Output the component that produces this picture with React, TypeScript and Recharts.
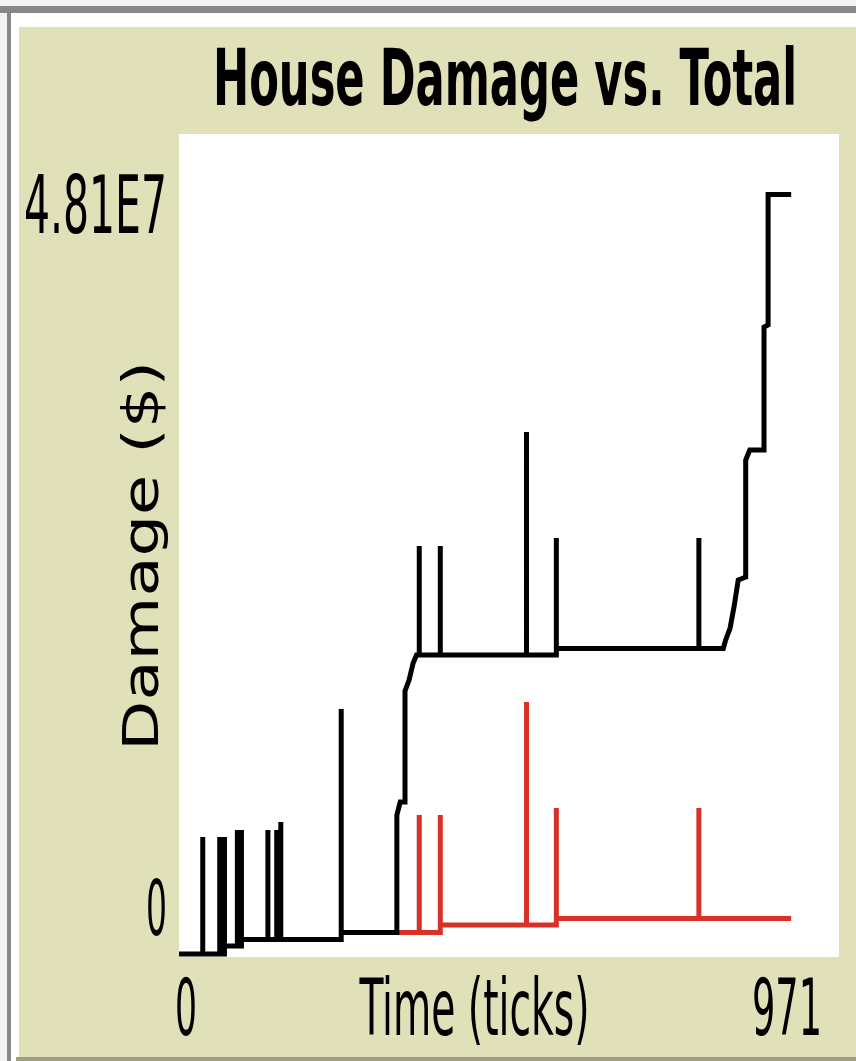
import React from "react";
import { LineChart, Line, XAxis, YAxis, Label } from "recharts";

const TITLE = "House Damage vs. Total";
const X_LABEL = "Time (ticks)";
const Y_LABEL = "Damage ($)";

const X_TICKS = [0, 971];
const Y_TICKS = [0, 48100000];
const Y_TICK_LABELS = ["0", "4.81E7"];

// total damage, ticks and $ millions (spikes are up-and-back on one tick)
const totalTicks = [
  0, 35, 35, 35, 60, 60, 60, 67, 67, 67, 86, 86, 86, 92, 92, 92,
  131, 131, 131, 144, 144, 144, 150, 150, 150, 239, 239, 239,
  321, 321, 326, 333, 333, 339, 345, 350, 354, 354, 354, 385, 385, 385,
  512, 512, 512, 556, 556, 556, 766, 766, 766,
  802, 805, 812, 818, 824, 835, 835, 841, 862, 862, 868, 868, 902,
];
const totalMillions = [
  0, 0, 6.86, 0, 0, 6.86, 0, 0, 6.86, 0.47, 0.47, 7.27, 0.47, 0.47, 7.27, 0.85,
  0.85, 7.27, 0.85, 0.85, 7.27, 0.85, 0.85, 7.74, 0.85, 0.85, 14.37, 1.26,
  1.26, 8.15, 8.92, 8.92, 15.43, 16.07, 17.07, 17.54, 17.54, 23.93, 17.54, 17.54, 23.93, 17.54,
  17.54, 30.62, 17.54, 17.54, 24.4, 17.92, 17.92, 24.4, 17.92,
  17.92, 18.36, 19.12, 20.41, 21.94, 22.11, 28.98, 29.56, 29.56, 36.78, 36.9, 44.55, 44.55,
];

// house damage: hidden under the total until tick 321, so only drawn from there
const houseTicks = [
  321, 354, 354, 354, 385, 385, 385, 512, 512, 512, 556, 556, 556, 766, 766, 766, 902,
];
const houseMillions = [
  1.26, 1.26, 8.15, 1.26, 1.26, 8.15, 1.7, 1.7, 14.78, 1.7, 1.7, 8.56, 2.08, 2.08, 8.56, 2.08, 2.08,
];

const toRows = (ticks: number[], vals: number[]) =>
  ticks.map((t, i) => ({ t, v: vals[i] * 1e6 }));

const totalData = toRows(totalTicks, totalMillions);
const houseData = toRows(houseTicks, houseMillions);

const FONT = "'Liberation Sans Narrow', 'DejaVu Sans Condensed', 'DejaVu Sans', sans-serif";
const KHAKI = "#e0e0b9";

// netlogo's pixel font is tall and narrow: small font, stretched upward
interface TallTextProps {
  x: number;
  y: number;
  width: number;
  cap: number;
  size: number;
  anchor?: "start" | "middle" | "end";
  bold?: boolean;
  children: React.ReactNode;
}

function TallText({ x, y, width, cap, size, anchor = "start", bold, children }: TallTextProps) {
  const sy = cap / (0.716 * size);
  return (
    <text
      transform={`translate(${x}, ${y}) scale(1, ${sy.toFixed(3)})`}
      textAnchor={anchor}
      fontFamily={FONT}
      fontWeight={bold ? "bold" : "normal"}
      fontSize={size}
      fill="#000"
      textLength={width}
      lengthAdjust="spacingAndGlyphs"
    >
      {children}
    </text>
  );
}

// eslint-disable-next-line @typescript-eslint/no-explicit-any
function YTick({ x, y, payload, index }: any) {
  const bottom = payload.value === 0;
  const text = Y_TICK_LABELS[index] ?? String(payload.value);
  return bottom ? (
    <TallText x={x} y={y - 19} width={21} cap={55} size={46} anchor="end">{text}</TallText>
  ) : (
    <TallText x={x} y={y + 99} width={143} cap={57} size={54} anchor="end">{text}</TallText>
  );
}

// eslint-disable-next-line @typescript-eslint/no-explicit-any
function XTick({ x, y, payload }: any) {
  const first = payload.value === 0;
  return first ? (
    <TallText x={x - 4} y={y + 81} width={22} cap={56} size={46}>{payload.value}</TallText>
  ) : (
    <TallText x={x - 16} y={y + 81} width={70} cap={56} size={50} anchor="end">{payload.value}</TallText>
  );
}

export default function App() {
  return (
    <div style={{ position: "relative", width: 856, height: 1061, background: "#f2f2f2", overflow: "hidden" }}>
      <style>{"body{margin:0}"}</style>
      <div style={{ position: "absolute", left: 0, top: 6, width: 856, height: 7, background: "#878787" }} />
      <div style={{ position: "absolute", left: 7, top: 6, width: 4, height: 1055, background: "#878787" }} />
      <div style={{ position: "absolute", left: 11, top: 13, width: 845, height: 1048, background: "#ffffff" }} />
      <div style={{ position: "absolute", left: 19, top: 27, width: 837, height: 1030, background: KHAKI }} />
      <div style={{ position: "absolute", left: 16, top: 1057, width: 840, height: 4, background: "#a0a080" }} />
      <div style={{ position: "absolute", left: 179, top: 134, width: 660, height: 823, background: "#ffffff" }} />

      <svg width={856} height={1061} style={{ position: "absolute", left: 0, top: 0, pointerEvents: "none" }}>
        <TallText x={213} y={105} width={584} cap={56} size={50} bold>
          {TITLE}
        </TallText>
      </svg>

      <div style={{ position: "absolute", left: 0, top: 0 }}>
        <LineChart width={856} height={1061} margin={{ top: 134, right: 18, bottom: 47, left: 119 }}>
          <XAxis
            type="number"
            dataKey="t"
            domain={[0, 971]}
            ticks={X_TICKS}
            interval={0}
            height={60}
            axisLine={false}
            tickLine={false}
            tickSize={0}
            tickMargin={0}
            tick={<XTick />}
          >
            <Label
              // eslint-disable-next-line @typescript-eslint/no-explicit-any
              content={(p: any) => (
                <TallText
                  x={p.viewBox.x + p.viewBox.width / 2 - 34}
                  y={p.viewBox.y + 81}
                  width={230}
                  cap={56}
                  size={52}
                  anchor="middle"
                >
                  {X_LABEL}
                </TallText>
              )}
            />
          </XAxis>
          <YAxis
            type="number"
            domain={[0, 48100000]}
            ticks={Y_TICKS}
            interval={0}
            width={60}
            axisLine={false}
            tickLine={false}
            tickSize={0}
            tickMargin={12}
            tick={<YTick />}
          >
            <Label
              // eslint-disable-next-line @typescript-eslint/no-explicit-any
              content={(p: any) => {
                const cx = p.viewBox.x + 39;
                const cy = p.viewBox.y + p.viewBox.height / 2 + 12;
                return (
                  <text
                    x={cx}
                    y={cy}
                    transform={`rotate(-90, ${cx}, ${cy})`}
                    textAnchor="middle"
                    fontFamily={FONT}
                    fontSize={49}
                    fill="#000"
                    textLength={390}
                    lengthAdjust="spacingAndGlyphs"
                  >
                    {Y_LABEL}
                  </text>
                );
              }}
            />
          </YAxis>
          <Line
            data={houseData}
            dataKey="v"
            type="linear"
            stroke="#d73229"
            strokeWidth={5}
            strokeLinecap="butt"
            strokeLinejoin="miter"
            dot={false}
            activeDot={false}
            isAnimationActive={false}
          />
          <Line
            data={totalData}
            dataKey="v"
            type="linear"
            stroke="#000000"
            strokeWidth={5}
            strokeLinecap="butt"
            strokeLinejoin="miter"
            dot={false}
            activeDot={false}
            isAnimationActive={false}
          />
        </LineChart>
      </div>
    </div>
  );
}
